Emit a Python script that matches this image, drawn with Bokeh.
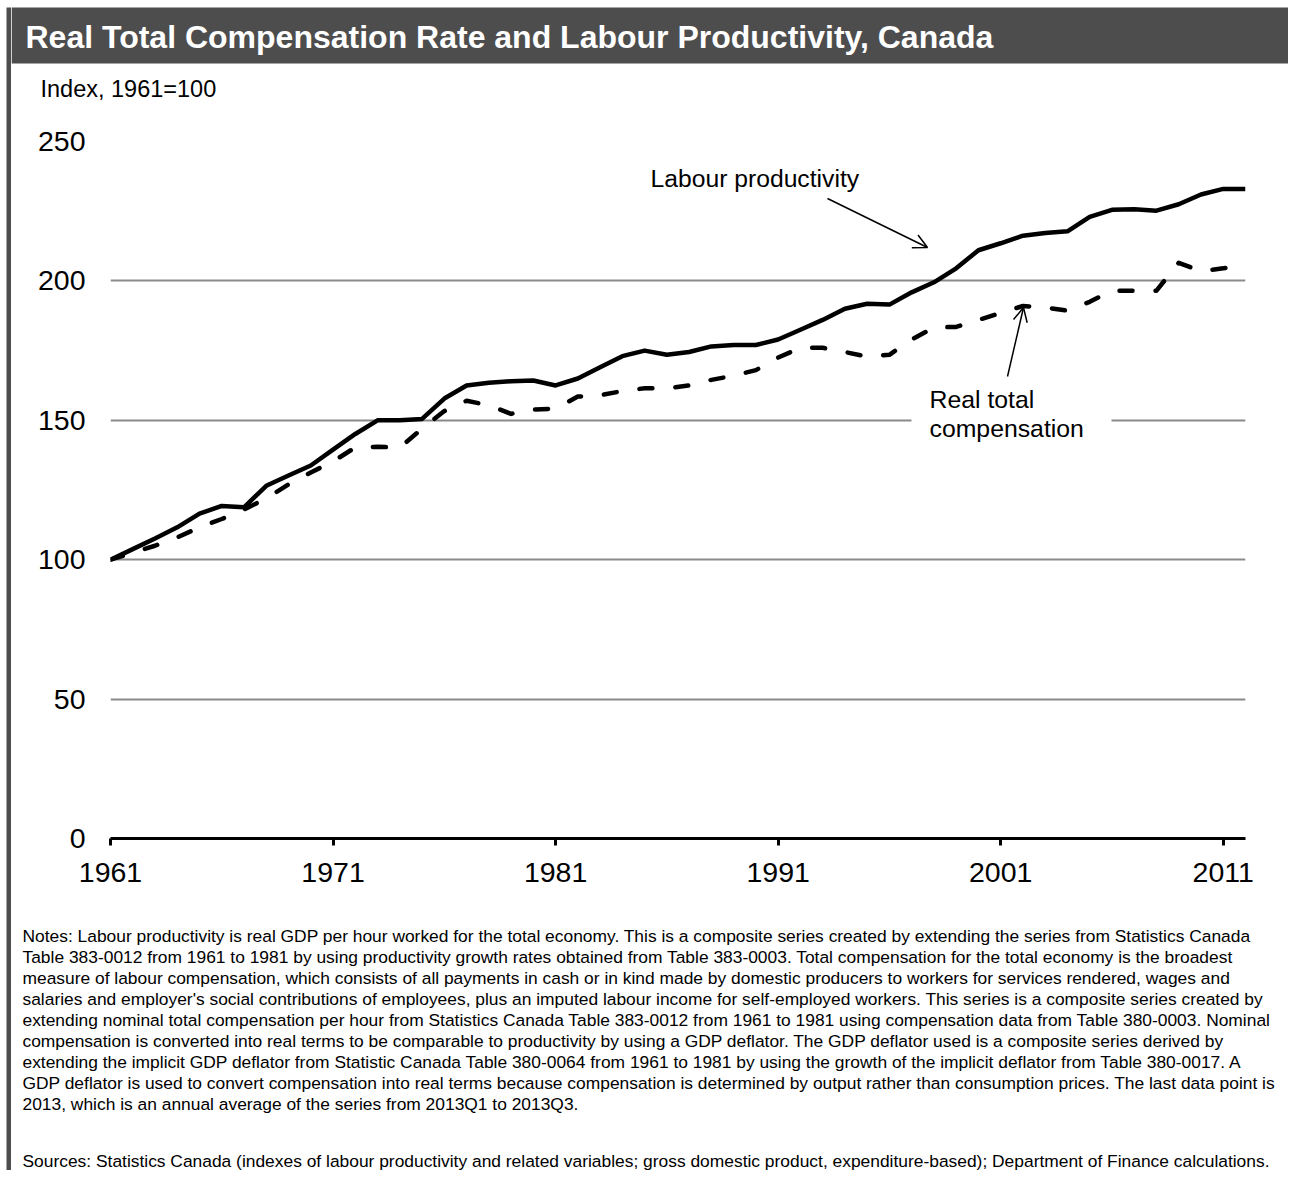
from bokeh.plotting import figure
from bokeh.layouts import row, column
from bokeh.models import Range1d, FixedTicker, Label, Arrow, OpenHead, BoxAnnotation
from bokeh.core.properties import value
from bokeh.embed import file_html
from bokeh.resources import INLINE

# ---------------- data ----------------
years = list(range(1961, 2013))
labour_productivity = [
    100.0, 103.8, 107.6, 111.6, 116.5, 119.3, 118.8, 126.5, 130.2, 133.8,
    139.5, 145.1, 150.0, 150.0, 150.5, 157.8, 162.5, 163.5, 164.0, 164.3,
    162.5, 165.0, 169.0, 173.0, 175.0, 173.5, 174.5, 176.5, 177.0, 177.0,
    179.0, 182.5, 186.0, 190.0, 191.8, 191.5, 195.9, 199.5, 204.5, 211.0,
    213.5, 216.2, 217.2, 217.8, 223.0, 225.5, 225.7, 225.2, 227.5, 231.0,
    233.0, 233.0,
]
real_total_compensation = [
    100.0, 102.5, 105.0, 108.0, 111.6, 114.6, 118.0, 122.0, 127.0, 131.3,
    135.2, 140.3, 140.5, 140.2, 147.0, 153.3, 157.0, 155.4, 152.3, 153.8,
    154.2, 158.5, 159.0, 160.5, 161.5, 161.5, 162.5, 164.5, 166.0, 168.0,
    172.5, 176.0, 176.0, 174.5, 172.8, 173.5, 179.0, 183.3, 183.5, 186.0,
    188.5, 191.0, 190.5, 189.3, 192.5, 196.5, 196.5, 196.5, 206.5, 203.5,
    204.5, 206.0,
]
x_ticks = [1961, 1971, 1981, 1991, 2001, 2011]
x_tick_labels = ["1961", "1971", "1981", "1991", "2001", "2011"]
y_ticks = [0, 50, 100, 150, 200, 250]
y_tick_labels = ["0", "50", "100", "150", "200", "250"]

title_text = "Real Total Compensation Rate and Labour Productivity, Canada"
unit_text = "Index, 1961=100"
lp_label = "Labour productivity"
rtc_label_lines = ["Real total", "compensation"]
note_lines = [
    "Notes: Labour productivity is real GDP per hour worked for the total economy. This is a composite series created by extending the series from Statistics Canada",
    "Table 383-0012 from 1961 to 1981 by using productivity growth rates obtained from Table 383-0003. Total compensation for the total economy is the broadest",
    "measure of labour compensation, which consists of all payments in cash or in kind made by domestic producers to workers for services rendered, wages and",
    "salaries and employer's social contributions of employees, plus an imputed labour income for self-employed workers. This series is a composite series created by",
    "extending nominal total compensation per hour from Statistics Canada Table 383-0012 from 1961 to 1981 using compensation data from Table 380-0003. Nominal",
    "compensation is converted into real terms to be comparable to productivity by using a GDP deflator. The GDP deflator used is a composite series derived by",
    "extending the implicit GDP deflator from Statistic Canada Table 380-0064 from 1961 to 1981 by using the growth of the implicit deflator from Table 380-0017. A",
    "GDP deflator is used to convert compensation into real terms because compensation is determined by output rather than consumption prices. The last data point is",
    "2013, which is an annual average of the series from 2013Q1 to 2013Q3.",
]
source_text = "Sources: Statistics Canada (indexes of labour productivity and related variables; gross domestic product, expenditure-based); Department of Finance calculations."

# ---------------- layout constants (page pixels) ----------------
TOTAL_W, TOTAL_H = 1288, 1170
STRIP_W = 11                       # left frame strip
W = TOTAL_W - STRIP_W              # width of the stacked panels
TOP_H, MAIN_H = 110, 790
NOTE_H = TOTAL_H - TOP_H - MAIN_H
FL, FR, FT, FB = 110, 1245, 141, 838   # plot-area edges on the page
X0, X1 = 1961, 2012
Y0, Y1 = 0, 250
FONT = "Liberation Sans"
DARK = "#4d4d4d"
NOTE_SIZE = "17.4px"


def cx(px):
    return X0 + (px - FL) * (X1 - X0) / (FR - FL)


def cy(py):
    return Y0 + (FB - py) * (Y1 - Y0) / (FB - FT)


def blank(width, height):
    f = figure(width=width, height=height, output_backend="svg", toolbar_location=None,
               x_range=Range1d(0, width), y_range=Range1d(height, 0),
               x_axis_type=None, y_axis_type=None, title=None,
               min_border_left=0, min_border_right=0, min_border_top=0, min_border_bottom=0)
    f.outline_line_color = None
    f.background_fill_color = "white"
    f.border_fill_color = "white"
    return f


# ---------- left frame strip ----------
strip = blank(STRIP_W, TOTAL_H)
strip.quad(left=[6], right=[STRIP_W], top=[7], bottom=[TOTAL_H], fill_color=DARK, line_color=None)

# ---------- title panel ----------
top = blank(W, TOP_H)
top.quad(left=[0], right=[W], top=[7], bottom=[63], fill_color=DARK, line_color=None)
top.text(x=[25 - STRIP_W], y=[36], text=[title_text], text_color="white",
         text_font=value(FONT), text_font_style="bold", text_font_size="32px",
         text_baseline="middle", text_align="left")
top.text(x=[40 - STRIP_W], y=[88], text=[unit_text], text_color="black",
         text_font=value(FONT), text_font_size="23.5px",
         text_baseline="middle", text_align="left")

# ---------- main chart ----------
p = figure(width=W, height=MAIN_H, output_backend="svg", toolbar_location=None, title=None,
           x_range=Range1d(X0, X1), y_range=Range1d(Y0, Y1),
           min_border_left=FL - STRIP_W, min_border_right=STRIP_W + W - FR,
           min_border_top=FT - TOP_H, min_border_bottom=TOP_H + MAIN_H - FB)
p.outline_line_color = None
p.background_fill_color = "white"
p.border_fill_color = "white"

p.xgrid.visible = False
p.ygrid.ticker = FixedTicker(ticks=y_ticks[1:])
p.ygrid.grid_line_color = "#8a8a8a"
p.ygrid.grid_line_width = 2

xa = p.xaxis[0]
xa.ticker = FixedTicker(ticks=x_ticks)
xa.major_label_overrides = dict(zip(x_ticks, x_tick_labels))
xa.axis_line_color = "black"
xa.axis_line_width = 3
xa.major_tick_line_color = "black"
xa.major_tick_line_width = 3
xa.major_tick_out = 7
xa.major_tick_in = 0
xa.minor_tick_out = 0
xa.minor_tick_in = 0
xa.major_label_text_font = FONT
xa.major_label_text_font_size = "28.5px"
xa.major_label_text_color = "black"
xa.major_label_standoff = 17

ya = p.yaxis[0]
ya.ticker = FixedTicker(ticks=y_ticks)
ya.major_label_overrides = dict(zip(y_ticks, y_tick_labels))
ya.axis_line_color = None
ya.major_tick_out = 0
ya.major_tick_in = 0
ya.minor_tick_out = 0
ya.minor_tick_in = 0
ya.major_label_text_font = FONT
ya.major_label_text_font_size = "28.5px"
ya.major_label_text_color = "black"
ya.major_label_standoff = 25

# white box behind the "Real total compensation" label (breaks the gridline)
p.add_layout(BoxAnnotation(left=cx(911), right=cx(1111), top=cy(384), bottom=cy(445),
                           fill_color="white", fill_alpha=1, line_color=None, level="underlay"))

p.line(years, labour_productivity, line_color="black", line_width=4.5, line_join="round")
p.line(years, real_total_compensation, line_color="black", line_width=4.5,
       line_dash="13 23", line_cap="round", line_join="round")

p.add_layout(Label(x=cx(650), y=cy(178), text=lp_label, text_color="black",
                   text_font=FONT, text_font_size="24.7px",
                   text_baseline="middle", text_align="left"))
p.add_layout(Arrow(end=OpenHead(size=14, line_width=1.5, line_color="black"),
                   x_start=cx(827), y_start=cy(198), x_end=cx(927), y_end=cy(247),
                   line_width=1.5, line_color="black"))
for i, t in enumerate(rtc_label_lines):
    p.add_layout(Label(x=cx(929), y=cy(399 + 29 * i), text=t, text_color="black",
                       text_font=FONT, text_font_size="24.8px",
                       text_baseline="middle", text_align="left"))
p.add_layout(Arrow(end=OpenHead(size=14, line_width=1.5, line_color="black"),
                   x_start=cx(1007), y_start=cy(376), x_end=cx(1023), y_end=cy(307),
                   line_width=1.5, line_color="black"))

# ---------- notes panel ----------
notes = blank(W, NOTE_H)
note_y0 = TOP_H + MAIN_H
notes.text(x=[22 - STRIP_W] * len(note_lines),
           y=[935 - note_y0 + 21.05 * i for i in range(len(note_lines))],
           text=note_lines, text_color="black",
           text_font=value(FONT), text_font_size=NOTE_SIZE,
           text_baseline="middle", text_align="left")
notes.text(x=[22 - STRIP_W], y=[1160 - note_y0], text=[source_text], text_color="black",
           text_font=value(FONT), text_font_size=NOTE_SIZE,
           text_baseline="middle", text_align="left")

# each panel wrapped on its own so that Bokeh does not align their frames
layout = row(strip, column(row(top), row(p), row(notes)))
open("out.html", "w").write(file_html(layout, INLINE))
